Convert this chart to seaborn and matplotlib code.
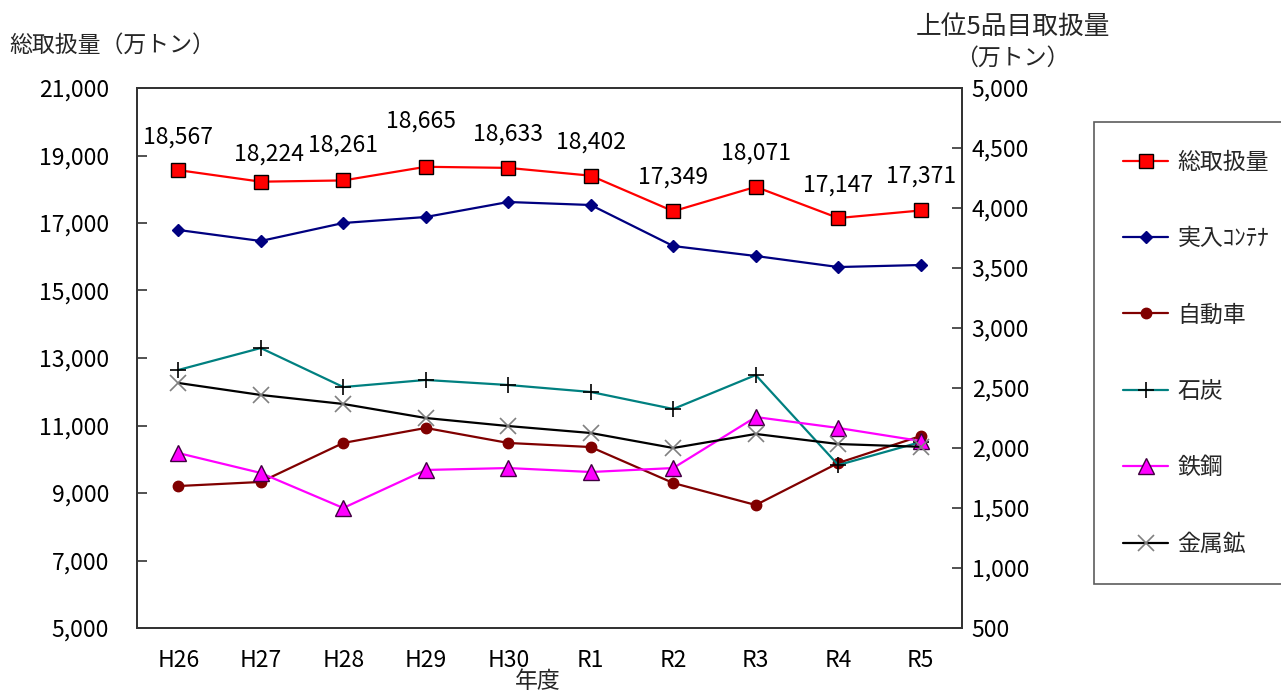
import numpy as np
import pandas as pd
import matplotlib
matplotlib.use("Agg")
import matplotlib.pyplot as plt
import seaborn as sns
from matplotlib.ticker import FuncFormatter, FixedLocator

# ---- data ----
years = ["H26", "H27", "H28", "H29", "H30", "R1", "R2", "R3", "R4", "R5"]
total = [18567, 18224, 18261, 18665, 18633, 18402, 17349, 18071, 17147, 17371]
container = [3817, 3725, 3875, 3925, 4050, 4025, 3683, 3600, 3508, 3525]
automobile = [1683, 1717, 2042, 2167, 2042, 2008, 1708, 1525, 1875, 2100]
coal = [2650, 2833, 2508, 2567, 2525, 2467, 2325, 2608, 1858, 2050]
steel = [1958, 1792, 1500, 1817, 1833, 1800, 1833, 2258, 2167, 2058]
metal = [2542, 2442, 2367, 2250, 2183, 2125, 2000, 2117, 2033, 2010]

left_ticks = list(range(5000, 21001, 2000))
right_ticks = list(range(500, 5001, 500))

# label offsets (pixels) for total value labels (layout only)
label_dx = [0, 8, 0, -5, 0, 0, 0, 0, 0, 0]
label_dy = [33, 28, 35, 46, 34, 34, 34, 34, 33, 34]

sns.set_theme(style="white")
plt.rcParams['font.family'] = ['Noto Sans CJK JP', 'DejaVu Sans']
FS = 16.5

fig = plt.figure(figsize=(12.81, 6.95), dpi=100)
W, H = 1281, 695
ax = fig.add_axes([137 / W, 1 - 628 / H, (962 - 137) / W, (628 - 88) / H])
ax2 = ax.twinx()

pos = np.arange(len(years))
df = pd.DataFrame({"pos": pos, "year": years, "total": total,
                   "container": container, "automobile": automobile,
                   "coal": coal, "steel": steel, "metal": metal})

lw = 1.6
sns.lineplot(data=df, x="pos", y="total", ax=ax, color="#FF0000", lw=lw,
             marker="s", markersize=10.5, markerfacecolor="#FF0000",
             markeredgecolor="#000000", markeredgewidth=1.0, label="総取扱量", legend=False)

series = [
    ("container", "実入ｺﾝﾃﾅ", "#000080", "D", 6.5, "#000080", "#000080", 1.0),
    ("automobile", "自動車", "#800000", "o", 7.5, "#800000", "#800000", 1.0),
    ("coal", "石炭", "#008080", "+", 11, "#000000", "#000000", 1.2),
    ("steel", "鉄鋼", "#FF00FF", "^", 11.5, "#FF00FF", "#400040", 1.0),
    ("metal", "金属鉱", "#000000", "x", 11.5, "#808080", "#808080", 1.2),
]
for col, lab, c, m, ms, mfc, mec, mew in series:
    sns.lineplot(data=df, x="pos", y=col, ax=ax2, color=c, lw=lw,
                 marker=m, markersize=ms, markerfacecolor=mfc,
                 markeredgecolor=mec, markeredgewidth=mew, label=lab, legend=False)

# value labels for total
for i, v in enumerate(total):
    ax.annotate(f"{v:,}", (pos[i], v), xytext=(label_dx[i] * 0.72, label_dy[i] * 0.72),
                textcoords="offset points", ha="center", va="center", fontsize=FS,
                color="#000000")

# axes limits / ticks
ax.set_xlim(-0.5, len(years) - 0.5)
ax.set_ylim(5000, 21000)
ax2.set_ylim(500, 5000)
ax.set_xticks(pos)
ax.set_xticklabels(years)
ax.xaxis.set_minor_locator(FixedLocator(pos[:-1] + 0.5))
ax.tick_params(axis="x", which="major", length=0, pad=15, labelsize=FS, colors="#000000")
ax.tick_params(axis="x", which="minor", direction="in", length=7, width=1.2, color="#333333")
ax.set_yticks(left_ticks)
ax.yaxis.set_major_formatter(FuncFormatter(lambda v, p: f"{int(v):,}"))
ax.tick_params(axis="y", direction="in", length=7, width=1.2, pad=20, labelsize=FS,
               color="#333333", labelcolor="#000000", left=True)
ax2.set_yticks(right_ticks)
ax2.yaxis.set_major_formatter(FuncFormatter(lambda v, p: f"{int(v):,}"))
ax2.tick_params(axis="y", direction="in", length=7, width=1.2, pad=7, labelsize=FS,
                color="#333333", labelcolor="#000000", right=True)
ax.set_ylabel("")
ax2.set_ylabel("")
ax.set_xlabel("年度", fontsize=FS, va="center")
ax.xaxis.set_label_coords((538 - 137) / 825, -(682 - 628) / 540)

for a in (ax, ax2):
    for s in a.spines.values():
        s.set_color("#333333")
        s.set_linewidth(1.3)
        s.set_visible(True)

# titles
fig.text(9 / W, 1 - 45 / H, "総取扱量（万トン）", ha="left", va="center", fontsize=FS)
fig.text(1013 / W, 1 - 27 / H, "上位5品目取扱量", ha="center", va="center", fontsize=18.5)
fig.text(1012 / W, 1 - 58 / H, "（万トン）", ha="center", va="center", fontsize=FS)

# legend
h1, l1 = ax.get_legend_handles_labels()
h2, l2 = ax2.get_legend_handles_labels()
leg = fig.legend(h1 + h2, l1 + l2, loc="upper left",
                 bbox_to_anchor=(1094 / W, 1 - 122 / H), frameon=True,
                 fancybox=False, edgecolor="#333333", fontsize=FS,
                 labelspacing=2.33, handlelength=2.0, handletextpad=0.4,
                 borderpad=1.25, borderaxespad=0, numpoints=1)
leg.get_frame().set_linewidth(1.2)
leg.get_frame().set_facecolor("white")

fig.savefig("out.png", dpi=100, facecolor="white")
